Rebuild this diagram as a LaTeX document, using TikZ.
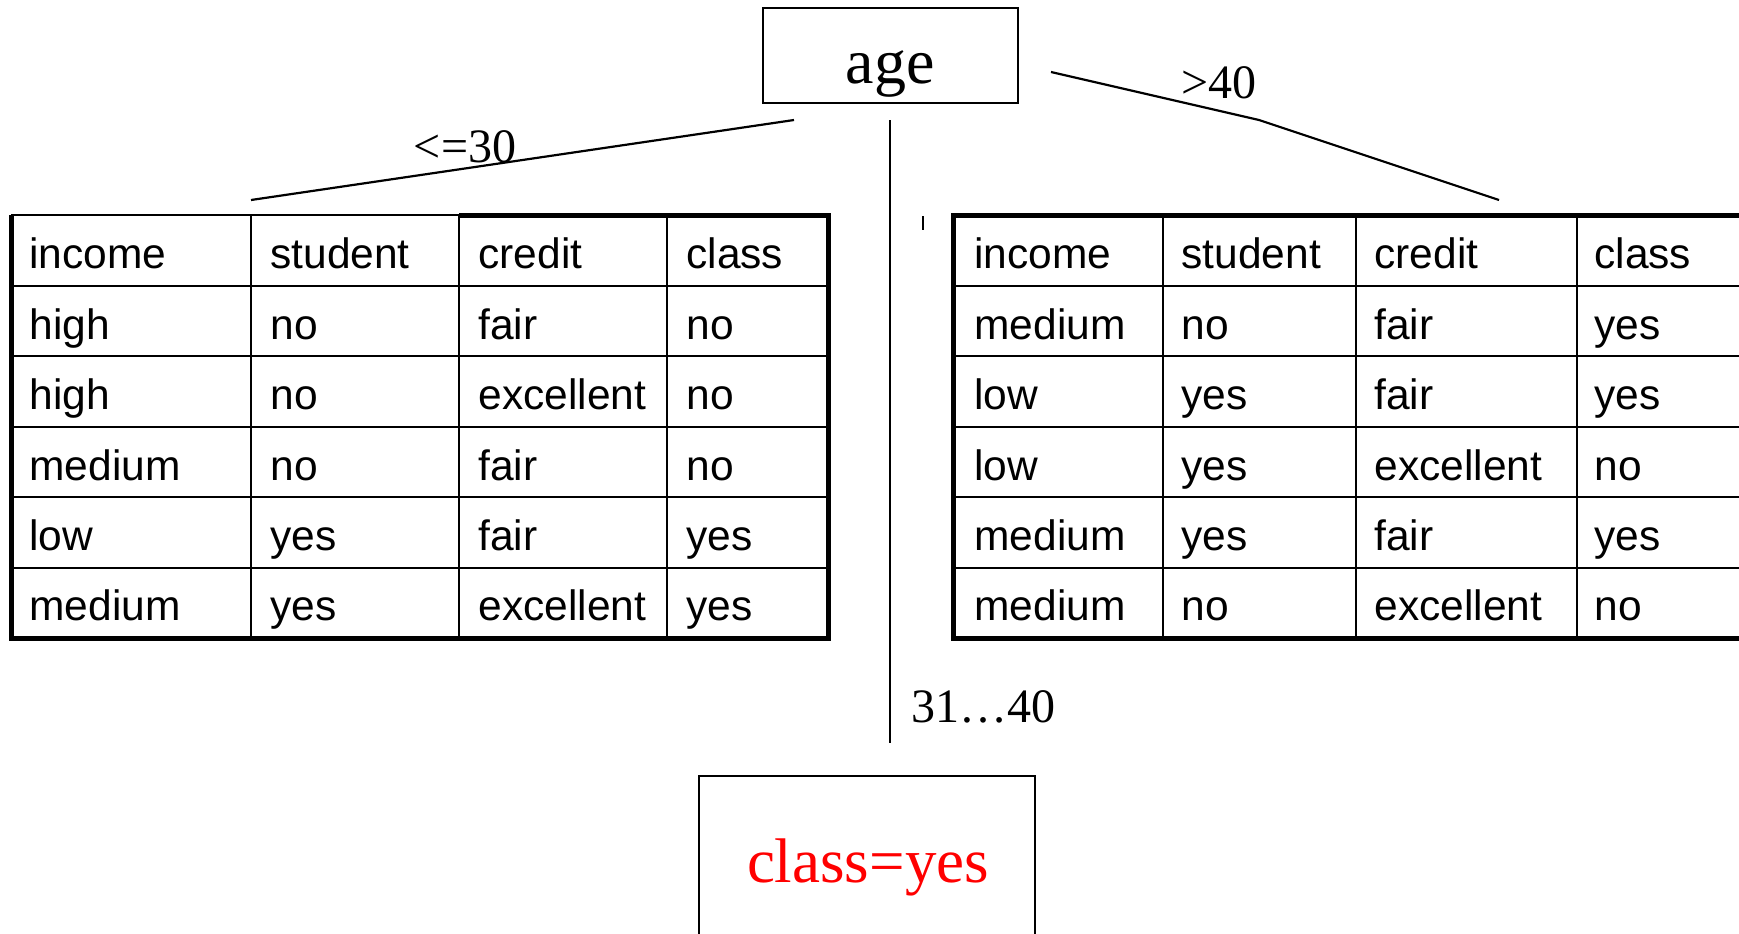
\documentclass[tikz,border=0pt]{standalone}
\usepackage{fontspec}
\setmainfont{Liberation Serif}
\newfontfamily\arialf{Liberation Sans}
\begin{document}
\begin{tikzpicture}[x=0.5pt,y=-0.5pt,
  tcell/.style={anchor=base west,inner sep=0pt,font=\arialf\fontsize{21.25pt}{25pt}\selectfont},
  gridline/.style={line width=1.1pt},
  frameline/.style={line width=2.5pt},
  edge/.style={line width=1.1pt},
  lbl/.style={anchor=base,inner sep=0pt,font=\fontsize{24pt}{28pt}\selectfont},
  boxnode/.style={draw,line width=1pt,inner sep=0pt}]
\useasboundingbox (0,0) rectangle (1739,933);
\clip (0,0) rectangle (1739,933);
% root node
\node[boxnode,minimum width=127.5pt,minimum height=47.5pt] (age) at (890.5,55.5) {};
\node[anchor=base,inner sep=0pt,font=\fontsize{32pt}{36pt}\selectfont] (agetxt) at (890,83) {age};
% leaf node
\node[boxnode,minimum width=168pt,minimum height=87pt] (leaf) at (867,863) {};
\node[anchor=base,inner sep=0pt,text=red,font=\fontsize{31.5pt}{36pt}\selectfont] (leaftxt) at (868,882) {class=yes};
% branches
\coordinate (l1) at (794,120); \coordinate (l2) at (251,200);
\draw[edge] (l1) -- (l2);
\coordinate (r1) at (1051,72); \coordinate (r2) at (1259,120); \coordinate (r3) at (1499,200);
\draw[edge] (r1) -- (r2) -- (r3);
\coordinate (v1) at (890,120); \coordinate (v2) at (890,743);
\draw[edge] (v1) -- (v2);
\coordinate (t1) at (923,216); \coordinate (t2) at (923,230);
\draw[line width=0.8pt] (t1) -- (t2);
% labels
\node[lbl] (lab1) at (465,162) {<=30};
\node[lbl] (lab2) at (1219,98) {>40};
\node[lbl,anchor=base west] (lab3) at (911,722) {31\ldots40};
% left table grid
\foreach \yy in {286,356,427,497,568} \draw[gridline] (11,\yy) -- (828,\yy);
\foreach \xx in {251,459,667} \draw[gridline] (\xx,215) -- (\xx,638);
\draw[gridline] (11,215) -- (459,215);
\draw[frameline] (459,215) -- (828,215) -- (828,638) -- (11,638) -- (11,215);
% right table grid
\foreach \yy in {286,356,427,497,568} \draw[gridline] (953,\yy) -- (1760,\yy);
\foreach \xx in {1163,1356,1577} \draw[gridline] (\xx,215) -- (\xx,638);
\draw[frameline] (1760,215) -- (953,215) -- (953,638) -- (1760,638);
% left table text
\foreach \a/\b/\c/\d [count=\n] in {income/student/credit/class,high/no/fair/no,high/no/excellent/no,medium/no/fair/no,low/yes/fair/yes,medium/yes/excellent/yes}{
  \pgfmathsetmacro\yy{198.4+70.4*\n}
  \node[tcell] (La\n) at (29,\yy) {\a};
  \node[tcell] (Lb\n) at (270,\yy) {\b};
  \node[tcell] (Lc\n) at (478,\yy) {\c};
  \node[tcell] (Ld\n) at (686,\yy) {\d};
}
% right table text
\foreach \a/\b/\c/\d [count=\n] in {income/student/credit/class,medium/no/fair/yes,low/yes/fair/yes,low/yes/excellent/no,medium/yes/fair/yes,medium/no/excellent/no}{
  \pgfmathsetmacro\yy{198.4+70.4*\n}
  \node[tcell] (Ra\n) at (974,\yy) {\a};
  \node[tcell] (Rb\n) at (1181,\yy) {\b};
  \node[tcell] (Rc\n) at (1374,\yy) {\c};
  \node[tcell] (Rd\n) at (1594,\yy) {\d};
}
\end{tikzpicture}
\end{document}
